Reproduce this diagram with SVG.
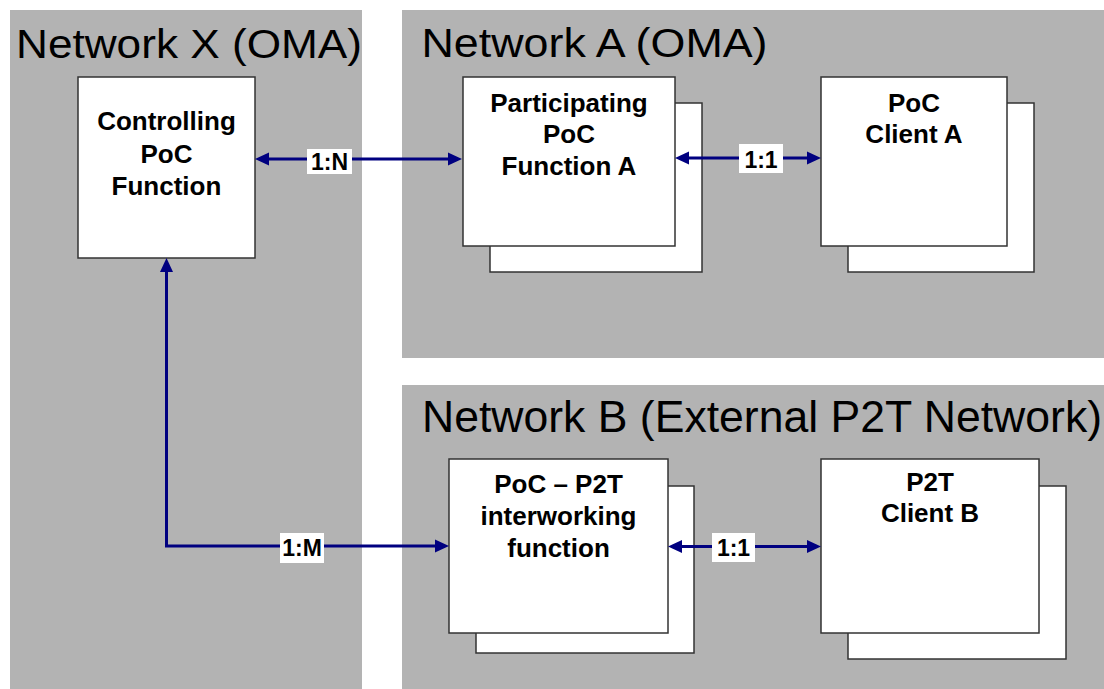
<svg xmlns="http://www.w3.org/2000/svg" width="1104" height="689" viewBox="0 0 1104 689">
<defs>
<style>
.panel{fill:#b3b3b3;}
.title{font-family:"Liberation Sans",Arial,sans-serif;fill:#000;}
.box{fill:#fff;stroke:#333;stroke-width:1.5;}
.nt{font-family:"Liberation Sans",Arial,sans-serif;font-weight:bold;font-size:26px;fill:#000;text-anchor:middle;}
.conn{fill:none;stroke:#000080;stroke-width:3;}
.lbg{fill:#fff;}
.lt{font-family:"Liberation Sans",Arial,sans-serif;font-weight:bold;font-size:23px;fill:#000;text-anchor:middle;}
</style>
<marker id="ah" viewBox="0 0 14 14" markerWidth="14" markerHeight="14" refX="10" refY="7" markerUnits="userSpaceOnUse" orient="auto-start-reverse">
<path d="M0,0.5 L14,7 L0,13.5 Z" fill="#000080"/>
</marker>
</defs>
<rect width="1104" height="689" fill="#fff"/>
<g id="network-x">
<rect class="panel" x="10" y="10" width="352" height="679"/>
<text class="title" x="16" y="58" font-size="41" textLength="346" lengthAdjust="spacingAndGlyphs">Network X (OMA)</text>
</g>
<g id="network-a">
<rect class="panel" x="402" y="10" width="702" height="348"/>
<text class="title" x="421.5" y="57" font-size="41" textLength="346" lengthAdjust="spacingAndGlyphs">Network A (OMA)</text>
</g>
<g id="network-b">
<rect class="panel" x="402" y="385" width="702" height="304"/>
<text class="title" x="422" y="432" font-size="44" textLength="680" lengthAdjust="spacingAndGlyphs">Network B (External P2T Network)</text>
</g>
<g id="controlling-poc-function">
<rect class="box" x="78" y="77" width="177" height="181"/>
<text class="nt" x="166.5" y="130">Controlling</text>
<text class="nt" x="166.5" y="163">PoC</text>
<text class="nt" x="166.5" y="195">Function</text>
</g>
<g id="participating-poc-function-a">
<rect class="box" x="490" y="103" width="212" height="169"/>
<rect class="box" x="463" y="77" width="212" height="169"/>
<text class="nt" x="569" y="111.5">Participating</text>
<text class="nt" x="569" y="143">PoC</text>
<text class="nt" x="569" y="174.5">Function A</text>
</g>
<g id="poc-client-a">
<rect class="box" x="848" y="103" width="186" height="169"/>
<rect class="box" x="821" y="77" width="186" height="169"/>
<text class="nt" x="914" y="111.5">PoC</text>
<text class="nt" x="914" y="143">Client A</text>
</g>
<g id="poc-p2t-interworking-function">
<rect class="box" x="476" y="486" width="218" height="167"/>
<rect class="box" x="449" y="459" width="219" height="174"/>
<text class="nt" x="558.5" y="493">PoC – P2T</text>
<text class="nt" x="558.5" y="525">interworking</text>
<text class="nt" x="558.5" y="557">function</text>
</g>
<g id="p2t-client-b">
<rect class="box" x="848" y="486" width="218" height="173"/>
<rect class="box" x="821" y="459" width="218" height="174"/>
<text class="nt" x="930" y="490.5">P2T</text>
<text class="nt" x="930" y="521.5">Client B</text>
</g>
<g id="connectors">
<path class="conn" d="M259,159 L458,159" marker-start="url(#ah)" marker-end="url(#ah)"/>
<rect class="lbg" x="307" y="149" width="45" height="25"/>
<text class="lt" x="329.5" y="169.5">1:N</text>
<path class="conn" d="M679,158 L817,158" marker-start="url(#ah)" marker-end="url(#ah)"/>
<rect class="lbg" x="739" y="144" width="44" height="29"/>
<text class="lt" x="761" y="167.5">1:1</text>
<path class="conn" d="M166.5,262 L166.5,546 L445,546" marker-start="url(#ah)" marker-end="url(#ah)"/>
<rect class="lbg" x="280" y="533" width="44" height="30"/>
<text class="lt" x="302" y="556">1:M</text>
<path class="conn" d="M672,546.5 L817,546.5" marker-start="url(#ah)" marker-end="url(#ah)"/>
<rect class="lbg" x="712" y="533" width="43" height="29"/>
<text class="lt" x="733.5" y="556">1:1</text>
</g>
</svg>
